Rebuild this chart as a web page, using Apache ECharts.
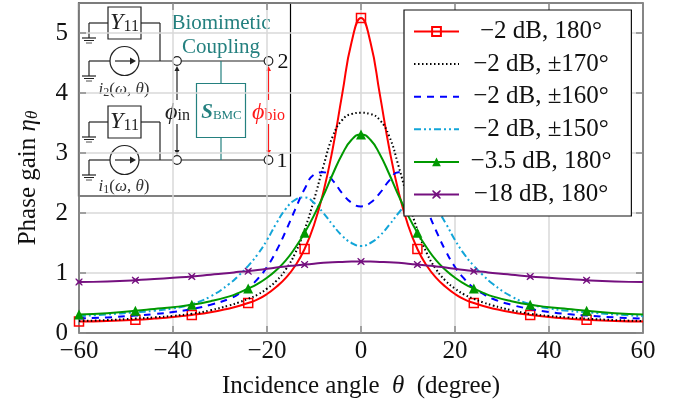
<!DOCTYPE html>
<html><head><meta charset="utf-8">
<style>html,body{margin:0;padding:0;background:#fff}#c{width:682px;height:408px}</style>
<script src="https://cdn.jsdelivr.net/npm/echarts@6/dist/echarts.min.js"></script>
</head><body><div id="c"></div>
<script>
const thetaHalf=[0,2,4,6,8,10,12,14,16,18,20,22,24,26,28,32,36,40,44,48,54,60];
const red2dB180=[5.25,4.85,3.98,3.08,2.35,1.80,1.40,1.12,0.92,0.77,0.65,0.56,0.50,0.45,0.41,0.345,0.30,0.265,0.24,0.22,0.20,0.19];
const black2dB170=[3.67,3.65,3.55,3.28,2.78,2.22,1.72,1.33,1.06,0.87,0.74,0.64,0.57,0.51,0.46,0.38,0.32,0.285,0.26,0.24,0.215,0.20];
const blue2dB160=[2.11,2.17,2.33,2.54,2.68,2.64,2.40,2.06,1.70,1.37,1.10,0.90,0.75,0.65,0.57,0.47,0.40,0.35,0.315,0.29,0.26,0.24];
const cyan2dB150=[1.45,1.50,1.62,1.80,2.00,2.17,2.26,2.22,2.07,1.83,1.55,1.31,1.12,0.96,0.82,0.61,0.48,0.41,0.37,0.345,0.31,0.28];
const green35dB180=[3.31,3.22,2.98,2.65,2.29,1.96,1.67,1.42,1.21,1.05,0.92,0.82,0.74,0.67,0.61,0.53,0.47,0.43,0.40,0.37,0.33,0.31];
const purple18dB180=[1.19,1.19,1.185,1.18,1.17,1.155,1.14,1.125,1.11,1.09,1.07,1.05,1.03,1.02,1.00,0.97,0.94,0.92,0.90,0.88,0.86,0.85];
const legendNames=['\u22122 dB, 180°','\u22122 dB, ±170°','\u22122 dB, ±160°','\u22122 dB, ±150°','\u22123.5 dB, 180°','\u221218 dB, 180°'];
const xTicks={min:-60,max:60,interval:20};
const yTicks={min:0,max:5.5,interval:1};

const F='"Liberation Serif",serif';
const X_SYM='path://M1 0L5 3.2L9 0L10 1L6.8 5L10 9L9 10L5 6.8L1 10L0 9L3.2 5L0 1Z';
function mirror(v){
  const out=[];
  for(let i=thetaHalf.length-1;i>0;i--) out.push([-thetaHalf[i],v[i]]);
  for(let i=0;i<thetaHalf.length;i++) out.push([thetaHalf[i],v[i]]);
  return out;
}
function ser(i,vals,color,dash,width,sym,size,iStyle){
  return {type:'line',name:legendNames[i],
    data:mirror(vals).map(p=>({value:p,symbol:(sym&&p[0]%12===0&&p[0]!==60)?sym:'none'})),
    smooth:0.5,showAllSymbol:true,clip:false,
    symbol:sym||'none',symbolSize:size,
    lineStyle:{color:color,width:width,type:dash},
    itemStyle:iStyle||{color:color},
    emphasis:{disabled:true},z:2+i};
}
/* ---------- inset circuit ---------- */
const K='#222',T='#24807f',R='#ff1a1a';
const el=[];
function L(x1,y1,x2,y2,c,w){el.push({type:'line',shape:{x1,y1,x2,y2},style:{stroke:c||K,lineWidth:w||1.2}});}
function Rct(x,y,w,h,c){el.push({type:'rect',shape:{x,y,width:w,height:h},style:{fill:'none',stroke:c||K,lineWidth:1.2}});}
function C(cx,cy,r,fill){el.push({type:'circle',shape:{cx,cy,r},style:{fill:fill||'#fff',stroke:K,lineWidth:1.2}});}
function Tx(x,y,text,size,color,rich,extra){el.push({type:'text',x,y,style:Object.assign({text,fontFamily:'Liberation Serif',fontSize:size,fill:color||K,align:'center',verticalAlign:'middle',rich:rich||undefined},extra||{})});}
function Arrow(x,y,dir,c,s){
  s=s||5;let pts;
  if(dir==='u')pts=[[x,y],[x-s*0.5,y+s],[x+s*0.5,y+s]];
  if(dir==='d')pts=[[x,y],[x-s*0.5,y-s],[x+s*0.5,y-s]];
  if(dir==='r')pts=[[x,y],[x-s,y-s*0.6],[x-s,y+s*0.6]];
  el.push({type:'polygon',shape:{points:pts},style:{fill:c||K,stroke:null}});
}
function ground(x,y){L(x-7,y,x+7,y);L(x-5,y+2.5,x+5,y+2.5,K,1);L(x-3,y+5,x+3,y+5,K,0.8);}
el.push({type:'rect',shape:{x:78.5,y:3,width:212,height:193},style:{fill:'#fff',stroke:'#000',lineWidth:1.2}});
function branch(dy,label){
  Rct(108,7+dy,33,32);
  Tx(124.5,23+dy,'{i|Y}{s|11}',24,K,{i:{fontFamily:'Liberation Serif',fontStyle:'italic',fontSize:24,fill:K},s:{fontFamily:'Liberation Serif',fontSize:16,fill:K,padding:[8,0,0,0]}});
  L(108,23+dy,89,23+dy);L(89,23+dy,89,38+dy);ground(89,38+dy);
  L(141,23+dy,160,23+dy);L(160,23+dy,160,61+dy);
  L(89,61+dy,110,61+dy);L(89,61+dy,89,76+dy);ground(89,76+dy);
  L(139,61+dy,173,61+dy);
  C(124.5,61+dy,14.5);
  L(115,61+dy,134,61+dy);Arrow(136,61+dy,'r',K,6);
  Tx(124,90+dy-(dy?2:0),'{i|i}{s|'+label+'}{n|(}{i|\u03c9}{n|, }{i|\u03b8}{n|)}',17,'#333',{i:{fontFamily:'Liberation Serif',fontStyle:'italic',fontSize:17,fill:'#333'},s:{fontFamily:'Liberation Serif',fontSize:12,fill:'#333',padding:[6,0,0,0]},n:{fontFamily:'Liberation Serif',fontSize:17,fill:'#333'}});
  L(181,61+dy,264,61+dy);
}
branch(0,'2');branch(99,'1');
L(221,61,221,83,T);L(221,137,221,160,T);
Rct(196.5,83.5,49,54,T);
C(177,61,4.3);C(268.5,61,4.3);C(177,160,4.3);C(268.5,160,4.3);
Tx(221,23,'Biomimetic',21,T);Tx(221,47,'Coupling',21,T);
Tx(221.5,113,'{b|S}{s|BMC}',18,T,{b:{fontFamily:'Liberation Serif',fontStyle:'italic',fontWeight:'bold',fontSize:21,fill:T},s:{fontFamily:'Liberation Serif',fontSize:13,fill:T,padding:[5,0,0,0]}});
Tx(283,62,'2',22,'#111');Tx(282,161,'1',22,'#111');
L(177,70,177,100);Arrow(177,66,'u');L(177,124,177,152);Arrow(177,155,'d');
L(268.5,70,268.5,100,R);Arrow(268.5,66,'u',R);L(268.5,124,268.5,152,R);Arrow(268.5,155,'d',R);
Tx(177.5,113,'{i|\u03d5}{s|in}',22,K,{i:{fontFamily:'Liberation Serif',fontStyle:'italic',fontSize:24,fill:K},s:{fontFamily:'Liberation Serif',fontSize:16,fill:K,padding:[5,0,0,0]}});
Tx(268.5,113,'{i|\u03d5}{s|bio}',22,R,{i:{fontFamily:'Liberation Serif',fontStyle:'italic',fontSize:24,fill:R},s:{fontFamily:'Liberation Serif',fontSize:16,fill:R,padding:[5,0,0,0]}});

const gridLine={show:true,lineStyle:{color:'#d9d9d9',width:1.5}};
const lbl=v=>String(v).replace('-','\u2212');
const tick={show:true,inside:true,length:7,lineStyle:{color:'#8a8a8a',width:1.5}};
const line={show:true,lineStyle:{color:'#666',width:1.5}};
const hiddenMark={color:'rgba(0,0,0,0)',borderWidth:0,opacity:0};
const chart=echarts.init(document.getElementById('c'),null,{renderer:'canvas'});
chart.setOption({
  animation:false,backgroundColor:'#fff',
  grid:{left:79,right:39,top:3,bottom:75,show:false},
  xAxis:[{type:'value',...xTicks,position:'bottom',axisLine:{...line,onZero:false},axisTick:tick,splitLine:gridLine,
    axisLabel:{formatter:lbl,fontFamily:F,fontSize:25,color:'#111',margin:6},
    name:'{n|Incidence angle  }{i|\u03b8}{n|  (degree)}',nameLocation:'middle',nameGap:41,
    nameTextStyle:{rich:{n:{fontFamily:F,fontSize:25,color:'#111'},i:{fontFamily:F,fontStyle:'italic',fontSize:25,color:'#111'}}}},
    {type:'value',...xTicks,position:'top',axisLine:{...line,onZero:false},axisTick:tick,splitLine:{show:false},axisLabel:{show:false}}],
  yAxis:[{type:'value',...yTicks,position:'left',axisLine:{...line,onZero:false},axisTick:tick,splitLine:gridLine,
    axisLabel:{fontFamily:F,fontSize:25,color:'#111',margin:11,showMaxLabel:false,formatter:v=>Number.isInteger(v)?String(v):''},
    name:'{n|Phase gain }{i|\u03b7}{s|\u03b8}',nameLocation:'middle',nameGap:38,nameRotate:90,
    nameTextStyle:{padding:[0,20,0,0],rich:{n:{fontFamily:F,fontSize:25,color:'#111'},i:{fontFamily:F,fontStyle:'italic',fontSize:25,color:'#111'},s:{fontFamily:F,fontStyle:'italic',fontSize:17,color:'#111',padding:[9,0,0,0]}}}},
    {type:'value',...yTicks,position:'right',axisLine:{...line,onZero:false},axisTick:tick,splitLine:{show:false},axisLabel:{show:false}}],
  legend:{show:true,orient:'vertical',left:404,top:10,width:228,
    data:[{name:legendNames[0]},{name:legendNames[1],itemStyle:hiddenMark},{name:legendNames[2],itemStyle:hiddenMark},{name:legendNames[3],itemStyle:hiddenMark},{name:legendNames[4]},{name:legendNames[5]}],
    backgroundColor:'#fff',borderColor:'#111',borderWidth:1.2,borderRadius:0,
    padding:[9,20,9,9],itemGap:7.6,itemWidth:45,itemHeight:11,selectedMode:false,
    formatter:n=>'{t|'+n+'}',
    textStyle:{rich:{t:{fontFamily:F,fontSize:25,color:'#111',width:154,align:'center'}}},
    z:20},
  series:[
    ser(0,red2dB180,'#ff0000','solid',2,'rect',9,{color:'rgba(255,255,255,0)',borderColor:'#ff0000',borderWidth:1.5}),
    ser(1,black2dB170,'#000',[1.5,2.5],2,null,0),
    ser(2,blue2dB160,'#0000ff',[7,6],2,null,0),
    ser(3,cyan2dB150,'#12a5d8',[7,3,2,3,2,3],2,null,0),
    ser(4,green35dB180,'#009900','solid',2,'triangle',10),
    ser(5,purple18dB180,'#75107f','solid',2,X_SYM,7.5)
  ],
  graphic:[{type:'group',z:30,silent:true,children:el}]
});
</script></body></html>
